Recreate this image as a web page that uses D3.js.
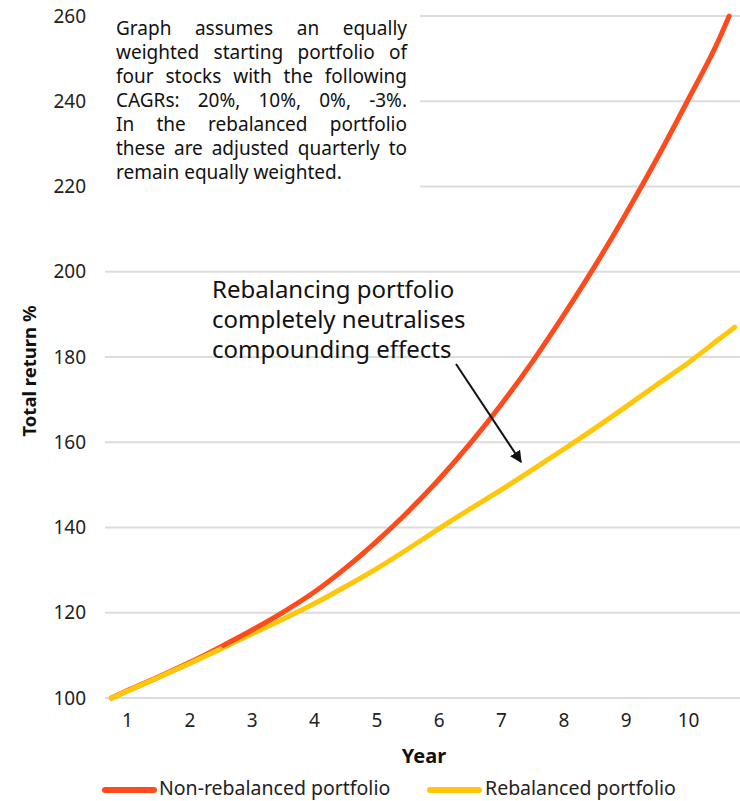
<!DOCTYPE html>
<html>
<head>
<meta charset="utf-8">
<script src="https://cdn.jsdelivr.net/npm/d3@7"></script>
<style>
  html, body { margin: 0; padding: 0; background: #fff; }
  svg { display: block; font-family: "Noto Sans", "Open Sans", sans-serif; }
</style>
</head>
<body>
<svg id="chart" width="740" height="801"></svg>
<script>
// Year positions (x) and total return % for each portfolio
const nonRebalancedYears = [0.75, 1, 1.5, 2, 2.5, 3, 3.5, 4, 4.5, 5, 5.5, 6, 6.5, 7, 7.5, 8, 8.5, 9, 9.5, 10, 10.5, 10.66];
const nonRebalancedValues = [100, 101.7, 104.9, 108.3, 112, 115.9, 120.1, 124.8, 130.4, 136.7, 143.6, 151.2, 159.6, 168.8, 178.8, 189.7, 201.2, 213.5, 226.5, 240.3, 254.6, 260];

const rebalancedYears = [0.75, 1, 1.5, 2, 2.5, 3, 3.5, 4, 4.5, 5, 5.5, 6, 6.5, 7, 7.5, 8, 8.5, 9, 9.5, 10, 10.5, 10.75];
const rebalancedValues = [100, 101.6, 104.8, 108.1, 111.5, 115.0, 118.5, 122.1, 126.1, 130.3, 134.9, 139.7, 144.3, 148.8, 153.5, 158.3, 163.2, 168.3, 173.5, 178.6, 184.2, 187];

const xTicks = [1, 2, 3, 4, 5, 6, 7, 8, 9, 10];
const yTicks = [100, 120, 140, 160, 180, 200, 220, 240, 260];

const seriesNames = ["Non-rebalanced portfolio", "Rebalanced portfolio"];
const seriesColors = ["#ff4a1c", "#ffc60a"];

const noteLines = [
  "Graph assumes an equally",
  "weighted starting portfolio of",
  "four stocks with the following",
  "CAGRs: 20%, 10%, 0%, -3%.",
  "In the rebalanced portfolio",
  "these are adjusted quarterly to",
  "remain equally weighted."
];
const calloutLines = [
  "Rebalancing portfolio",
  "completely neutralises",
  "compounding effects"
];

const svg = d3.select("#chart");

const x = d3.scaleLinear().domain([1, 10]).range([127, 688]);
const y = d3.scaleLinear().domain([100, 260]).range([698, 16]);

// Horizontal gridlines
svg.append("g")
  .selectAll("line")
  .data(yTicks)
  .join("line")
  .attr("x1", 105)
  .attr("x2", 740)
  .attr("y1", d => y(d))
  .attr("y2", d => y(d))
  .attr("stroke", "#dcdcdc")
  .attr("stroke-width", 2);

// Y axis labels
const yAxis = d3.axisLeft(y).tickValues(yTicks).tickSize(0).tickPadding(0).tickFormat(d3.format("d"));
svg.append("g")
  .attr("transform", "translate(86,0)")
  .call(yAxis)
  .call(g => g.select(".domain").remove())
  .selectAll("text")
  .attr("font-family", "Noto Sans, sans-serif")
  .attr("font-size", 19)
  .attr("fill", "#222");

// X axis labels
const xAxis = d3.axisBottom(x).tickValues(xTicks).tickSize(0).tickPadding(0).tickFormat(d3.format("d"));
svg.append("g")
  .attr("transform", "translate(0,713)")
  .call(xAxis)
  .call(g => g.select(".domain").remove())
  .selectAll("text")
  .attr("font-family", "Noto Sans, sans-serif")
  .attr("font-size", 19)
  .attr("fill", "#222");

// Axis titles
svg.append("text")
  .attr("x", 424).attr("y", 763)
  .attr("text-anchor", "middle")
  .attr("font-size", 20).attr("font-weight", "bold")
  .attr("fill", "#111")
  .text("Year");

svg.append("text")
  .attr("transform", "translate(36,371) rotate(-90)")
  .attr("text-anchor", "middle")
  .attr("font-size", 18.5).attr("font-weight", "bold")
  .attr("fill", "#111")
  .text("Total return %");

// Lines
const line = d3.line()
  .x(d => x(d[0]))
  .y(d => y(d[1]))
  .curve(d3.curveMonotoneX);

const series = [
  d3.zip(nonRebalancedYears, nonRebalancedValues),
  d3.zip(rebalancedYears, rebalancedValues)
];

// Draw rebalanced first so the red line sits above where they diverge
svg.append("path")
  .datum(series[1])
  .attr("d", line)
  .attr("fill", "none")
  .attr("stroke", seriesColors[1])
  .attr("stroke-width", 5)
  .attr("stroke-linecap", "round");

svg.append("path")
  .datum(series[0])
  .attr("d", line)
  .attr("fill", "none")
  .attr("stroke", seriesColors[0])
  .attr("stroke-width", 5)
  .attr("stroke-linecap", "round");

// Redraw the early yellow segment on top where both lines coincide
svg.append("path")
  .datum(series[1].filter(d => d[0] <= 2.5))
  .attr("d", line)
  .attr("fill", "none")
  .attr("stroke", seriesColors[1])
  .attr("stroke-width", 5)
  .attr("stroke-linecap", "round");

// Note box with justified text
const note = svg.append("g");
note.append("rect")
  .attr("x", 100).attr("y", 0)
  .attr("width", 320).attr("height", 195)
  .attr("fill", "#fff");

const noteFont = 19;
const noteLeft = 116, noteRight = 407, noteTop = 35, noteStep = 24;
const spaceW = (() => {
  const t = note.append("text").attr("font-size", noteFont).text("a a");
  const t2 = note.append("text").attr("font-size", noteFont).text("aa");
  const s = t.node().getComputedTextLength() - t2.node().getComputedTextLength();
  t.remove(); t2.remove();
  return s;
})();
noteLines.forEach((ln, i) => {
  const words = ln.split(" ");
  const by = noteTop + i * noteStep;
  const last = i === noteLines.length - 1;
  const texts = words.map(w => note.append("text")
    .attr("y", by)
    .attr("font-size", noteFont)
    .attr("fill", "#111")
    .text(w));
  const widths = texts.map(t => t.node().getComputedTextLength());
  const total = d3.sum(widths);
  let gap = last || words.length < 2 ? spaceW : (noteRight - noteLeft - total) / (words.length - 1);
  let scale = 1;
  if (gap < spaceW * 0.6) {
    // squeeze slightly if the natural line is too long for the column
    gap = spaceW * 0.6;
    scale = (noteRight - noteLeft - gap * (words.length - 1)) / total;
  }
  let cx = noteLeft;
  texts.forEach((t, k) => {
    t.attr("x", cx);
    if (scale !== 1) t.attr("textLength", widths[k] * scale).attr("lengthAdjust", "spacingAndGlyphs");
    cx += widths[k] * scale + gap;
  });
});

// Callout text and arrow
svg.append("g")
  .selectAll("text")
  .data(calloutLines)
  .join("text")
  .attr("x", 212)
  .attr("y", (d, i) => 298 + i * 30)
  .attr("font-size", 24)
  .attr("fill", "#111")
  .text(d => d);

svg.append("defs").append("marker")
  .attr("id", "arrowhead")
  .attr("viewBox", "0 0 10 10")
  .attr("refX", 9).attr("refY", 5)
  .attr("markerWidth", 6).attr("markerHeight", 6)
  .attr("markerUnits", "strokeWidth")
  .attr("orient", "auto")
  .append("path")
  .attr("d", "M0,0 L10,5 L0,10 z")
  .attr("fill", "#111");

svg.append("line")
  .attr("x1", 456).attr("y1", 364)
  .attr("x2", 521).attr("y2", 462)
  .attr("stroke", "#111")
  .attr("stroke-width", 2)
  .attr("marker-end", "url(#arrowhead)");

// Legend
const legendItems = [
  { name: seriesNames[0], color: seriesColors[0], x1: 105, x2: 154, tx: 159 },
  { name: seriesNames[1], color: seriesColors[1], x1: 430, x2: 479, tx: 485 }
];
const legend = svg.append("g");
legendItems.forEach(it => {
  legend.append("line")
    .attr("x1", it.x1).attr("x2", it.x2)
    .attr("y1", 790).attr("y2", 790)
    .attr("stroke", it.color)
    .attr("stroke-width", 6)
    .attr("stroke-linecap", "round");
  legend.append("text")
    .attr("x", it.tx).attr("y", 795)
    .attr("font-size", 19.5)
    .attr("fill", "#222")
    .text(it.name);
});
</script>
</body>
</html>
